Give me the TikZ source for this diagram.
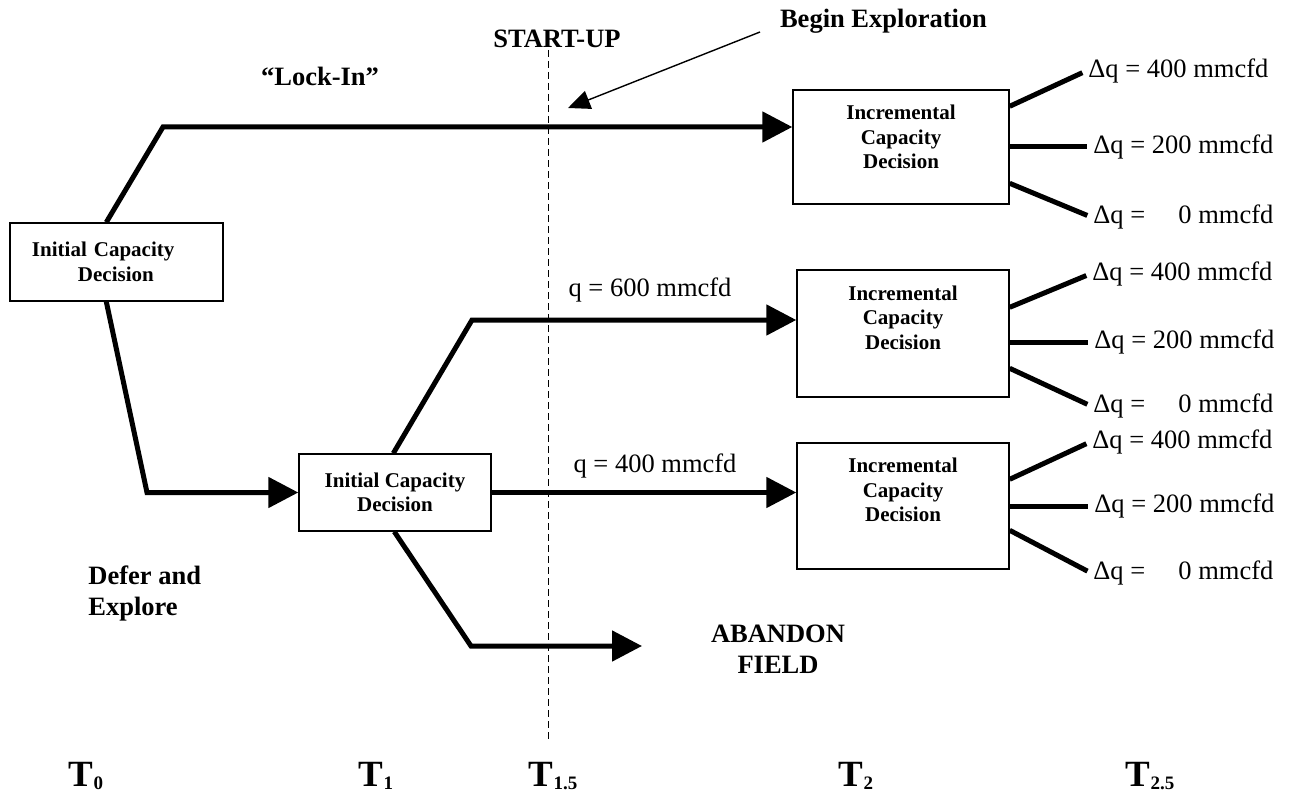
\documentclass[tikz,border=0pt]{standalone}
\usepackage{fontspec}
\setmainfont{Liberation Serif}
\usetikzlibrary{arrows.meta,calc}
\newcommand{\mysubT}[1]{T\kern0.3pt\raisebox{-1.5pt}{\fontsize{9.5}{9.5}\selectfont\bfseries #1}}
\begin{document}
\begin{tikzpicture}[x=0.5pt,y=-0.5pt,
  box/.style={draw, line width=0.7pt, inner sep=0pt, font=\fontsize{10.5}{12.25}\selectfont\bfseries},
  heavy/.style={line width=2.5pt},
  bigarrow/.style={heavy, -{Triangle[length=15pt,width=15pt]}},
  thinarrow/.style={line width=0.7pt, -{Triangle[length=11pt,width=9.5pt]}},
  lbl/.style={inner sep=0pt, font=\fontsize{13.25}{15.5}\selectfont},
  blbl/.style={inner sep=0pt, font=\fontsize{13.25}{15.5}\selectfont\bfseries},
  dq/.style={lbl, anchor=west, inner xsep=1pt, inner ysep=0pt},
  branch/.style={heavy, shorten >=2pt},
  tlbl/.style={anchor=base west, inner sep=0pt, font=\fontsize{18.5}{20}\selectfont\bfseries},
  startline/.style={line width=0.5pt, dash pattern=on 3.5pt off 2pt},
]
\useasboundingbox (0,0) rectangle (1290,797);

% boxes
\node[box, text width=106.5pt, align=left, minimum height=39pt] (A) at (116.5,262)
  {\hspace*{11pt}Initial Capacity\\\hspace*{34pt}Decision};
\node[box, align=center, minimum width=108pt, minimum height=57pt] (B) at (901,147)
  {Incremental\\Capacity\\Decision\\[-2.25pt]\mbox{}};
\node[box, align=center, minimum width=106pt, minimum height=63.5pt] (C) at (903,333.5)
  {Incremental\\Capacity\\Decision\\[3.75pt]\mbox{}};
\node[box, align=center, minimum width=106pt, minimum height=63pt] (D) at (903,506)
  {Incremental\\Capacity\\Decision\\[3.75pt]\mbox{}};
\node[box, align=center, minimum width=96pt, minimum height=38.5pt] (E) at (395,492.5)
  {Initial Capacity\\Decision};

% labels
\node[blbl] (lock) at (320,76) {“Lock-In”};
\node[blbl] (su) at (557,39) {START-UP};
\node[blbl] (bex) at (883.5,21) {Begin Exploration};
\node[lbl] (q6) at (650,290) {q = 600 mmcfd};
\node[lbl] (q4) at (655,466) {q = 400 mmcfd};
\node[blbl, align=left, anchor=west] (defer) at (88,593) {Defer and\\Explore};
\node[blbl, align=center] (aband) at (778,649.5) {ABANDON\\FIELD};

% time labels
\node[tlbl] (t0) at (68,786) {\mysubT{0}};
\node[tlbl] (t1) at (358,786) {\mysubT{1}};
\node[tlbl] (t15) at (528,786) {\mysubT{1.5}};
\node[tlbl] (t2) at (838,786) {\mysubT{2}};
\node[tlbl] (t25) at (1125,786) {\mysubT{2.5}};

% start-up line
\coordinate (dtop) at (548,50);
\coordinate (dbot) at (548,742);
\draw[startline] (dtop) -- (dbot);

% begin exploration arrow
\coordinate (bexs) at (760,32);
\coordinate (bext) at (568,108);
\draw[thinarrow] (bexs) -- (bext);

% main connectors
\draw[bigarrow] ($(A.north west)+(97,0)$) -- (163,127) -- (B.west |- 0,127);
\draw[bigarrow] ($(A.south west)+(97,0)$) -- (147,492.5) -- (E.west);
\draw[bigarrow] ($(E.north west)+(95,0)$) -- (472,320) -- (C.west |- 0,320);
\draw[bigarrow] (E.east) -- (E.east -| D.west);
\coordinate (abtip) at (642,646);
\draw[bigarrow] ($(E.south west)+(96,0)$) -- (471,646) -- (abtip);

% branch labels
\node[dq] (b1) at (1086,71) {Δq = 400 mmcfd};
\node[dq] (b2) at (1091,147) {Δq = 200 mmcfd};
\node[dq] (b3) at (1091,217) {Δq = \phantom{40}0 mmcfd};
\node[dq] (c1) at (1090,274) {Δq = 400 mmcfd};
\node[dq] (c2) at (1092,342) {Δq = 200 mmcfd};
\node[dq] (c3) at (1091,406) {Δq = \phantom{40}0 mmcfd};
\node[dq] (d1) at (1090,442) {Δq = 400 mmcfd};
\node[dq] (d2) at (1092,506) {Δq = 200 mmcfd};
\node[dq] (d3) at (1091,573) {Δq = \phantom{40}0 mmcfd};

% branches
\draw[branch] ($(B.north east)+(0,17)$) -- (b1.west);
\draw[branch] (B.east) -- (b2.west);
\draw[branch] ($(B.north east)+(0,94)$) -- (b3.west);
\draw[branch] ($(C.north east)+(0,38)$) -- (c1.west);
\draw[branch] (c2.west -| C.east) -- (c2.west);
\draw[branch] ($(C.north east)+(0,99)$) -- (c3.west);
\draw[branch] ($(D.north east)+(0,37)$) -- (d1.west);
\draw[branch] (D.east) -- (d2.west);
\draw[branch] ($(D.north east)+(0,88)$) -- (d3.west);
\end{tikzpicture}
\end{document}
